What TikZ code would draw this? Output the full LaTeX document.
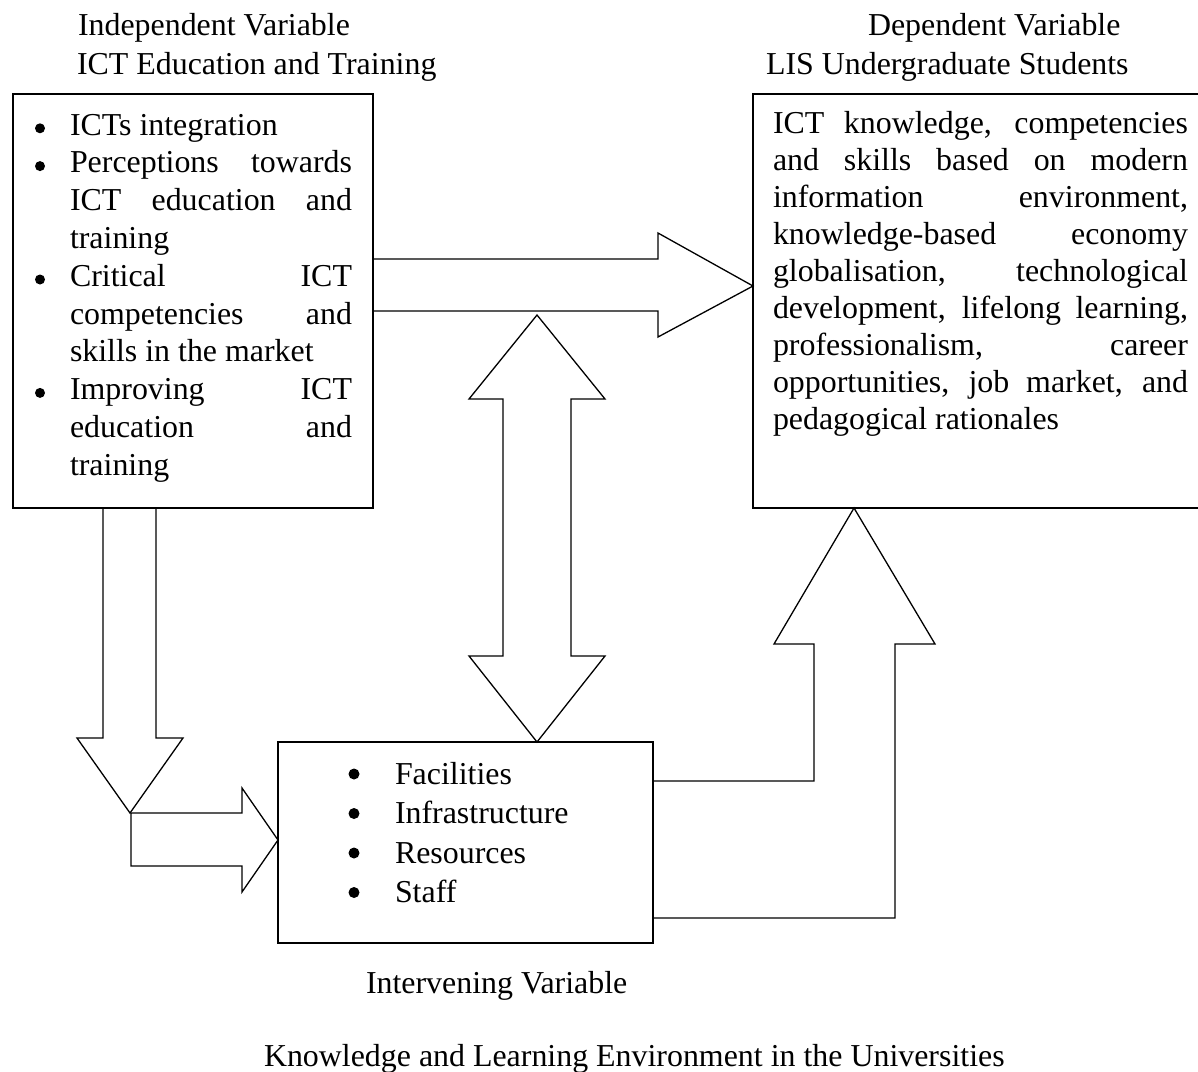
\documentclass[tikz,border=0pt]{standalone}
\usepackage{fontspec}
\setmainfont{Liberation Serif}
\tikzset{
  box/.style={draw, line width=1.8pt, rectangle, inner sep=0pt, outer sep=0pt},
  blockarrow/.style={draw, line width=1.3pt, line join=miter},
  txt/.style={anchor=base west, inner sep=0pt, outer sep=0pt, font=\fontsize{31.9}{38}\selectfont},
  bul/.style={circle, fill=black, inner sep=0pt, minimum size=10pt},
}
\newcommand{\jl}[2]{\makebox[#1pt][s]{#2}}
\begin{document}
\begin{tikzpicture}[x=1pt,y=-1pt]
\useasboundingbox (0,0) rectangle (1198,1071);

% boxes
\node[box, minimum width=360pt, minimum height=414pt] (lbox) at (193,301) {};
\node[box, minimum width=447pt, minimum height=414pt] (rbox) at (976.5,301) {};
\node[box, minimum width=375pt, minimum height=201pt] (bbox) at (465.5,842.5) {};

% titles
\node[txt] (t1) at (78,35) {Independent Variable};
\node[txt] (t2) at (77,74) {ICT Education and Training};
\node[txt] (t3) at (868,35) {Dependent Variable};
\node[txt] (t4) at (766,74) {LIS Undergraduate Students};
\node[txt] (t5) at (366,993) {Intervening Variable};
\node[txt] (t6) at (264,1066) {Knowledge and Learning Environment in the Universities};

% left box contents
\node[bul] (b1) at (40,128.3) {};
\node[bul] (b2) at (40,166.1) {};
\node[bul] (b5) at (40,279.5) {};
\node[bul] (b8) at (40,392.9) {};
\node[txt] (l1) at (70,135) {ICTs integration};
\node[txt] (l2) at (70,172.8) {\jl{282}{Perceptions towards}};
\node[txt] (l3) at (70,210.6) {\jl{282}{ICT education and}};
\node[txt] (l4) at (70,248.4) {training};
\node[txt] (l5) at (70,286.2) {\jl{282}{Critical ICT}};
\node[txt] (l6) at (70,324.0) {\jl{282}{competencies and}};
\node[txt] (l7) at (70,361.8) {skills in the market};
\node[txt] (l8) at (70,399.6) {\jl{282}{Improving ICT}};
\node[txt] (l9) at (70,437.4) {\jl{282}{education and}};
\node[txt] (l10) at (70,475.2) {training};

% right box contents
\node[txt] (r1) at (773,133) {\jl{415}{ICT knowledge, competencies}};
\node[txt] (r2) at (773,170.1) {\jl{415}{and skills based on modern}};
\node[txt] (r3) at (773,207.2) {\jl{415}{information environment,}};
\node[txt] (r4) at (773,244.3) {\jl{415}{knowledge-based economy}};
\node[txt] (r5) at (773,281.4) {\jl{415}{globalisation, technological}};
\node[txt] (r6) at (773,318.5) {\jl{415}{development, lifelong learning,}};
\node[txt] (r7) at (773,355.6) {\jl{415}{professionalism, career}};
\node[txt] (r8) at (773,392.7) {\jl{415}{opportunities, job market, and}};
\node[txt] (r9) at (773,429.8) {pedagogical rationales};

% bottom box contents
\node[bul, minimum size=11pt] (c1b) at (354,774) {};
\node[bul, minimum size=11pt] (c2b) at (354,813.5) {};
\node[bul, minimum size=11pt] (c3b) at (354,853) {};
\node[bul, minimum size=11pt] (c4b) at (354,892.5) {};
\node[txt] (c1) at (395,784) {Facilities};
\node[txt] (c2) at (395,823) {Infrastructure};
\node[txt] (c3) at (395,863) {Resources};
\node[txt] (c4) at (395,902) {Staff};

% block arrows
% left box -> right box
\draw[blockarrow] (373,259) -- (658,259) -- (658,233) -- (rbox.west |- 0,286) -- (658,337) -- (658,311) -- (373,311);
% double arrow between left-right arrow and bottom box
\draw[blockarrow] (537,315) -- (605,399) -- (571,399) -- (571,656) -- (605,656) -- (bbox.north -| 537,0) -- (469,656) -- (503,656) -- (503,399) -- (469,399) -- cycle;
% left box down
\draw[blockarrow] (103,508) -- (103,738) -- (77,738) -- (130,813) -- (183,738) -- (156,738) -- (156,508);
% to bottom box
\draw[blockarrow] (131,813) -- (242,813) -- (242,788) -- (bbox.west |- 0,840) -- (242,892) -- (242,866) -- (131,866) -- cycle;
% bottom box up to right box
\draw[blockarrow] (653,781) -- (814,781) -- (814,644) -- (774,644) -- (rbox.south -| 854,0) -- (935,644) -- (895,644) -- (895,918) -- (653,918);
\end{tikzpicture}
\end{document}
